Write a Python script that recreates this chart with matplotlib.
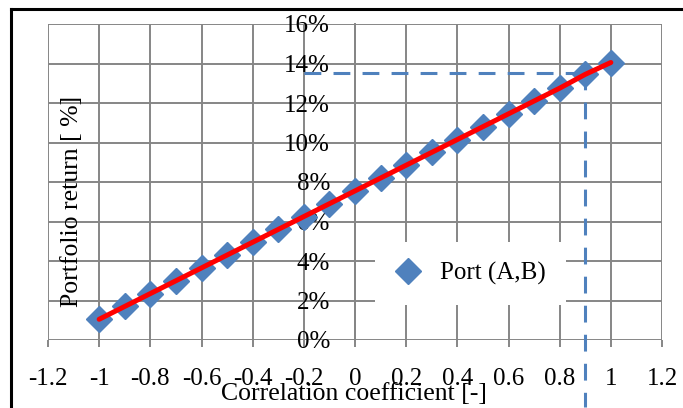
import matplotlib
matplotlib.use("Agg")
import matplotlib.pyplot as plt
from matplotlib.lines import Line2D
from matplotlib.ticker import FuncFormatter

correlation = [-1.0, -0.9, -0.8, -0.7, -0.6, -0.5, -0.4, -0.3, -0.2, -0.1, 0.0,
               0.1, 0.2, 0.3, 0.4, 0.5, 0.6, 0.7, 0.8, 0.9, 1.0]
port_return = [1.05, 1.70, 2.35, 3.00, 3.65, 4.30, 4.95, 5.60, 6.25, 6.90, 7.55,
               8.20, 8.85, 9.50, 10.15, 10.80, 11.45, 12.10, 12.75, 13.45, 14.05]
x_ticks = [-1.2, -1.0, -0.8, -0.6, -0.4, -0.2, 0.0, 0.2, 0.4, 0.6, 0.8, 1.0, 1.2]
y_ticks = [0, 2, 4, 6, 8, 10, 12, 14, 16]
ref_x = 0.9
ref_y = 13.5
ref_hline_start = -0.2
ref_vline_end = -3.4

W, H = 683, 408
FS = 18
plt.rcParams['font.family'] = ['Liberation Serif', 'DejaVu Serif']
fig = plt.figure(figsize=(W / 100, H / 100), dpi=100)
ax = fig.add_axes([48 / W, (H - 340) / H, 614 / W, 316 / H])

blue = '#4F81BD'
grid_c = '#868686'

ax.set_xlim(-1.2, 1.2)
ax.set_ylim(0, 16)
ax.set_xticks(x_ticks)
ax.set_yticks(y_ticks)
ax.xaxis.set_major_formatter(FuncFormatter(lambda v, p: f"{v:g}"))
ax.yaxis.set_major_formatter(FuncFormatter(lambda v, p: f"{v:g}%"))
ax.grid(True, color=grid_c, linewidth=1.4, zorder=0)
ax.set_axisbelow(True)
for s in ['top', 'right', 'bottom']:
    ax.spines[s].set_visible(False)
ax.spines['left'].set_position(('data', 0))
ax.spines['left'].set_color(grid_c)
ax.spines['left'].set_linewidth(1.4)
ax.tick_params(axis='x', direction='out', length=5, width=1.4, color=grid_c,
               labelsize=FS, pad=15)
ax.tick_params(axis='y', length=0, labelsize=FS, pad=18)

ax.plot(correlation, port_return, linestyle='none', marker='D', markersize=13,
        color=blue, label='Port (A,B)', zorder=3)
ax.plot(correlation, port_return, color='red', linewidth=3.6, zorder=4,
        solid_capstyle='round')

ax.plot([ref_hline_start, ref_x], [ref_y, ref_y], color=blue, linewidth=2.2,
        dashes=(5.5, 4), zorder=2)
ax.plot([ref_x, ref_x], [ref_y, ref_vline_end], color=blue, linewidth=2.2,
        dashes=(5.5, 4), zorder=2, clip_on=False)

leg = ax.legend(loc='upper left', bbox_to_anchor=(327 / 614, (340 - 242) / 316),
                frameon=True, fontsize=FS, handlelength=1.0, handletextpad=0.8,
                borderpad=0.8, borderaxespad=0)
leg.get_frame().set_edgecolor('none')
leg.get_frame().set_facecolor('white')
leg.get_frame().set_alpha(1)
leg.get_frame().set_boxstyle('square', pad=0)

fig.text(72 / W, 1 - 201 / H, 'Portfolio return [ %]', rotation=90,
         ha='center', va='center', fontsize=FS + 0.5)
fig.text(354 / W, 1 - 394 / H, 'Correlation coefficient [-]',
         ha='center', va='center', fontsize=FS + 0.5)

fig.add_artist(Line2D([11 / W, 11 / W], [0, 1 - 9 / H], color='black', linewidth=2.2))
fig.add_artist(Line2D([11 / W, 1], [1 - 9 / H, 1 - 9 / H], color='black', linewidth=2.2))

fig.savefig('out.png', dpi=100)
